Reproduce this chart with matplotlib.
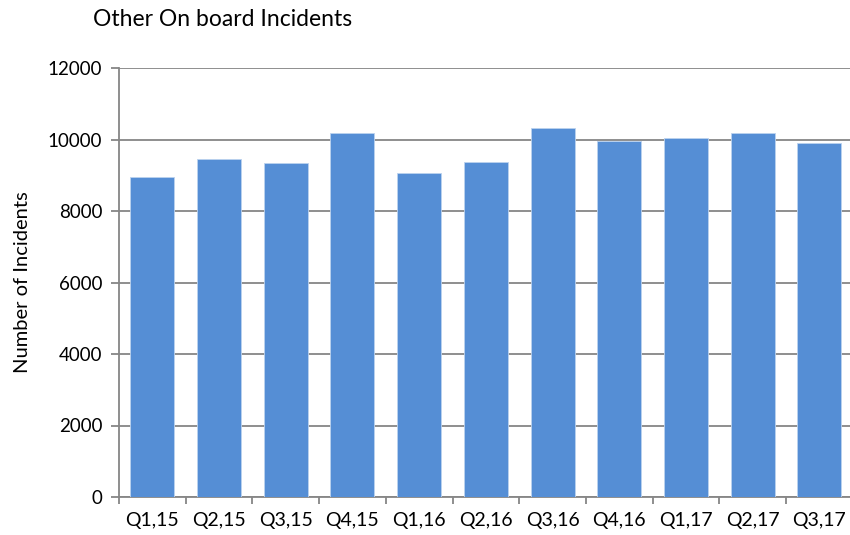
import matplotlib
matplotlib.use("Agg")
import matplotlib.pyplot as plt
import numpy as np

plt.rcParams["font.family"] = ["Lato", "DejaVu Sans"]

quarters = ["Q1,15", "Q2,15", "Q3,15", "Q4,15", "Q1,16", "Q2,16",
            "Q3,16", "Q4,16", "Q1,17", "Q2,17", "Q3,17"]
incidents = [8945, 9450, 9345, 10170, 9055, 9380,
             10335, 9970, 10030, 10180, 9915]
y_ticks = [0, 2000, 4000, 6000, 8000, 10000, 12000]

fig = plt.figure(figsize=(8.5, 5.35), dpi=100)
ax = fig.add_axes([119 / 850, 38 / 535, 733.7 / 850, 429 / 535])

x = np.arange(len(quarters))
ax.bar(x, incidents, width=0.66, color="#558ED5", edgecolor="#BCD2EE",
       linewidth=0.6, zorder=3)

ax.set_xlim(-0.5, len(quarters) - 0.5)
ax.set_ylim(0, 12000)
ax.set_yticks(y_ticks)
ax.set_yticklabels([str(v) for v in y_ticks], fontsize=13.5)
ax.set_xticks(x)
ax.set_xticklabels(quarters, fontsize=14)
ax.set_xticks(np.arange(-0.5, len(quarters)), minor=True)

ax.tick_params(axis="x", which="major", length=0, pad=11)
ax.tick_params(axis="x", which="minor", length=5, color="#868686", width=1.3)
ax.tick_params(axis="y", length=6, color="#868686", width=1.3, pad=6)

ax.grid(True, axis="y", color="#868686", linewidth=1.3, zorder=0)
ax.set_axisbelow(True)
for side in ["top", "right"]:
    ax.spines[side].set_visible(False)
for side in ["left", "bottom"]:
    ax.spines[side].set_color("#868686")
    ax.spines[side].set_linewidth(1.3)

ax.set_ylabel("Number of Incidents", fontsize=14.5, labelpad=12)
fig.text(93 / 850, 1 - 19 / 535, "Other On board Incidents", fontsize=16.5,
         va="center", ha="left")

fig.savefig("out.png", dpi=100)
